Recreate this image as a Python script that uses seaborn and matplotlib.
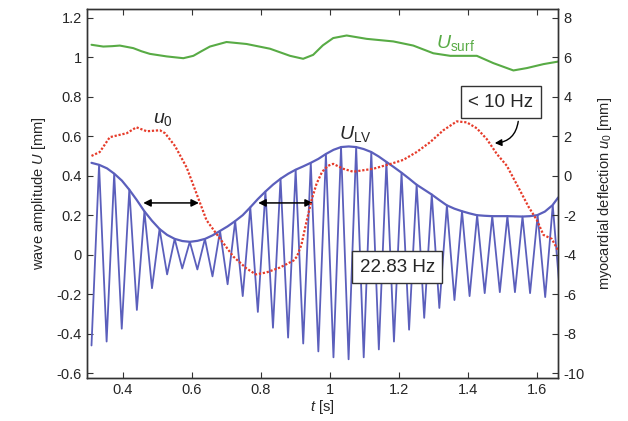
import numpy as np
import matplotlib
matplotlib.use("Agg")
import matplotlib.pyplot as plt
import seaborn as sns

# oscillating LV wave: trough / peak values per cycle
carrier_hz = 22.83
osc_t0 = 0.310
trough_vals = [-0.46, -0.44, -0.375, -0.28, -0.17, -0.10, -0.07, -0.075, -0.11, -0.15,
               -0.21, -0.29, -0.37, -0.42, -0.45, -0.49, -0.52, -0.53, -0.52, -0.48,
               -0.44, -0.38, -0.32, -0.27, -0.23, -0.21, -0.195, -0.19, -0.19, -0.195,
               -0.215, -0.22]
peak_vals = [0.455, 0.41, 0.33, 0.22, 0.13, 0.08, 0.065, 0.08, 0.12, 0.17,
             0.24, 0.32, 0.385, 0.43, 0.465, 0.51, 0.545, 0.545, 0.52, 0.47,
             0.415, 0.355, 0.305, 0.25, 0.22, 0.20, 0.195, 0.195, 0.193, 0.20,
             0.25]

# envelope U_LV
env_t = [0.310, 0.332, 0.355, 0.376, 0.398, 0.419, 0.441, 0.463, 0.485, 0.507, 0.529,
         0.551, 0.573, 0.595, 0.617, 0.639, 0.661, 0.682, 0.704, 0.726, 0.748, 0.770,
         0.792, 0.814, 0.836, 0.858, 0.880, 0.901, 0.923, 0.945, 0.967, 0.989, 1.011,
         1.033, 1.055, 1.076, 1.098, 1.120, 1.142, 1.164, 1.186, 1.208, 1.230, 1.251,
         1.273, 1.295, 1.317, 1.339, 1.361, 1.383, 1.405, 1.426, 1.448, 1.470, 1.492,
         1.514, 1.536, 1.558, 1.580, 1.601, 1.623, 1.645, 1.662]
env_vals = [0.465, 0.455, 0.437, 0.41, 0.375, 0.33, 0.277, 0.22, 0.172, 0.13, 0.100,
            0.08, 0.069, 0.065, 0.070, 0.08, 0.098, 0.12, 0.143, 0.17, 0.20, 0.24,
            0.282, 0.32, 0.355, 0.385, 0.41, 0.43, 0.447, 0.465, 0.485, 0.51, 0.531,
            0.545, 0.548, 0.545, 0.535, 0.52, 0.497, 0.47, 0.443, 0.415, 0.385, 0.355,
            0.33, 0.305, 0.277, 0.25, 0.233, 0.22, 0.209, 0.20, 0.197, 0.195, 0.195,
            0.195, 0.194, 0.193, 0.195, 0.20, 0.218, 0.25, 0.29]

# surface wave U_surf
surf_t = [0.31, 0.344, 0.37, 0.392, 0.431, 0.455, 0.479, 0.528, 0.576, 0.605, 0.628,
          0.653, 0.701, 0.759, 0.827, 0.885, 0.923, 0.952, 0.98, 1.01, 1.049, 1.107,
          1.184, 1.242, 1.30, 1.349, 1.426, 1.474, 1.532, 1.571, 1.619, 1.662]
surf_vals = [1.063, 1.054, 1.056, 1.059, 1.046, 1.03, 1.017, 1.004, 0.995, 1.007, 1.03,
             1.054, 1.077, 1.067, 1.043, 1.007, 0.992, 1.012, 1.06, 1.097, 1.11, 1.093,
             1.08, 1.059, 1.02, 1.007, 1.007, 0.97, 0.933, 0.945, 0.965, 0.978]

# myocardial deflection u0 (right axis, mm)
u0_t = [0.31, 0.334, 0.363, 0.387, 0.412, 0.44, 0.47, 0.508, 0.523, 0.552, 0.586, 0.614,
        0.643, 0.672, 0.721, 0.759, 0.786, 0.817, 0.856, 0.895, 0.905, 0.918, 0.933,
        0.948, 0.962, 0.978, 0.995, 1.01, 1.039, 1.068, 1.126, 1.177, 1.213, 1.252,
        1.291, 1.329, 1.368, 1.397, 1.426, 1.455, 1.484, 1.513, 1.542, 1.576, 1.60,
        1.619, 1.643, 1.662]
u0_mm = [1.0, 1.2, 1.95, 2.05, 2.15, 2.45, 2.25, 2.3, 2.15, 1.5, 0.4, -0.9,
         -2.25, -2.95, -4.1, -4.7, -5.0, -4.9, -4.65, -4.3, -4.1, -3.5, -2.3,
         -1.2, -0.4, 0.2, 0.5, 0.6, 0.35, 0.2, 0.35, 0.6, 0.8, 1.2,
         1.7, 2.3, 2.75, 2.7, 2.4, 1.85, 1.1, 0.5, -0.45, -1.58, -2.25,
         -3.0, -3.2, -3.8]

x_ticks = [0.4, 0.6, 0.8, 1.0, 1.2, 1.4, 1.6]
x_tick_labels = ['0.4', '0.6', '0.8', '1', '1.2', '1.4', '1.6']
left_ticks = [-0.6, -0.4, -0.2, 0, 0.2, 0.4, 0.6, 0.8, 1.0, 1.2]
left_tick_labels = ['-0.6', '-0.4', '-0.2', '0', '0.2', '0.4', '0.6', '0.8', '1', '1.2']
right_ticks = [-10, -8, -6, -4, -2, 0, 2, 4, 6, 8]
right_tick_labels = [str(v) for v in right_ticks]

BLUE = '#5b5fbc'
GREEN = '#58ab45'
RED = '#e63b2a'

sns.set_style("ticks")
plt.rcParams['font.family'] = ['Liberation Sans', 'DejaVu Sans']
plt.rcParams['mathtext.fontset'] = 'custom'
plt.rcParams['mathtext.rm'] = 'Liberation Sans'
plt.rcParams['mathtext.it'] = 'Liberation Sans:italic'

# interleave troughs and peaks in time order
n_ext = len(trough_vals) + len(peak_vals)
osc_t = osc_t0 + np.arange(n_ext) * 0.5 / carrier_hz
osc_vals = np.empty(n_ext)
osc_vals[0::2] = trough_vals
osc_vals[1::2] = peak_vals

fig, ax = plt.subplots(figsize=(6.28, 4.21), dpi=100)
fig.subplots_adjust(left=0.138, right=0.889, top=0.979, bottom=0.102)

sns.lineplot(x=osc_t, y=osc_vals, ax=ax, color=BLUE, lw=1.3, sort=False)
sns.lineplot(x=env_t, y=env_vals, ax=ax, color=BLUE, lw=1.6)
sns.lineplot(x=surf_t, y=surf_vals, ax=ax, color=GREEN, lw=1.5)

ax.set_xlim(0.296, 1.662)
ax.set_ylim(-0.625, 1.245)
ax.set_xticks(x_ticks)
ax.set_xticklabels(x_tick_labels)
ax.set_yticks(left_ticks)
ax.set_yticklabels(left_tick_labels)
ax.tick_params(direction='in', length=4, top=True, labelsize=10.5, color='#333333')
ax.set_xlabel('$t$ [s]', fontsize=10.5, labelpad=1)
ax.set_ylabel('wave amplitude $U$ [mm]', fontsize=10.5, labelpad=6)

ax2 = ax.twinx()
sns.lineplot(x=u0_t, y=u0_mm, ax=ax2, color=RED, lw=1.6, linestyle=(0, (1, 0.8)))
ax2.set_ylim(-10.25, 8.45)
ax2.set_yticks(right_ticks)
ax2.set_yticklabels(right_tick_labels)
ax2.tick_params(direction='in', length=4, labelsize=10.5, color='#333333')
ax2.set_ylabel('myocardial deflection $u_0$ [mm]', fontsize=10.5, labelpad=8)

for a in (ax, ax2):
    for s in a.spines.values():
        s.set_color('#333333')
        s.set_linewidth(1.0)

# labels on curves
ax.text(1.363, 1.073, r'$U_{\mathrm{surf}}$', color=GREEN, fontsize=14, ha='center', va='center')
ax.text(0.517, 0.687, r'$u_0$', fontsize=14, ha='center', va='center')
ax.text(1.074, 0.61, r'$U_{\mathrm{LV}}$', fontsize=14, ha='center', va='center')

box = dict(boxstyle='square,pad=0.4', fc='white', ec='#333333', lw=1.0)
ax.text(1.495, 0.772, '< 10 Hz', fontsize=13.5, ha='center', va='center', bbox=box, zorder=5)
ax.text(1.196, -0.064, '22.83 Hz', fontsize=13.5, ha='center', va='center', bbox=box, zorder=5)

ax.annotate('', xy=(1.478, 0.565), xytext=(1.546, 0.675),
            arrowprops=dict(arrowstyle='-|>', connectionstyle='arc3,rad=-0.4',
                            color='black', lw=1.0, mutation_scale=10, shrinkA=0, shrinkB=0))
for x0, x1 in [(0.46, 0.621), (0.793, 0.951)]:
    ax.annotate('', xy=(x1, 0.262), xytext=(x0, 0.262),
                arrowprops=dict(arrowstyle='<|-|>', color='black', lw=1.1,
                                mutation_scale=11, shrinkA=0, shrinkB=0))

fig.savefig('out.png', dpi=100)
